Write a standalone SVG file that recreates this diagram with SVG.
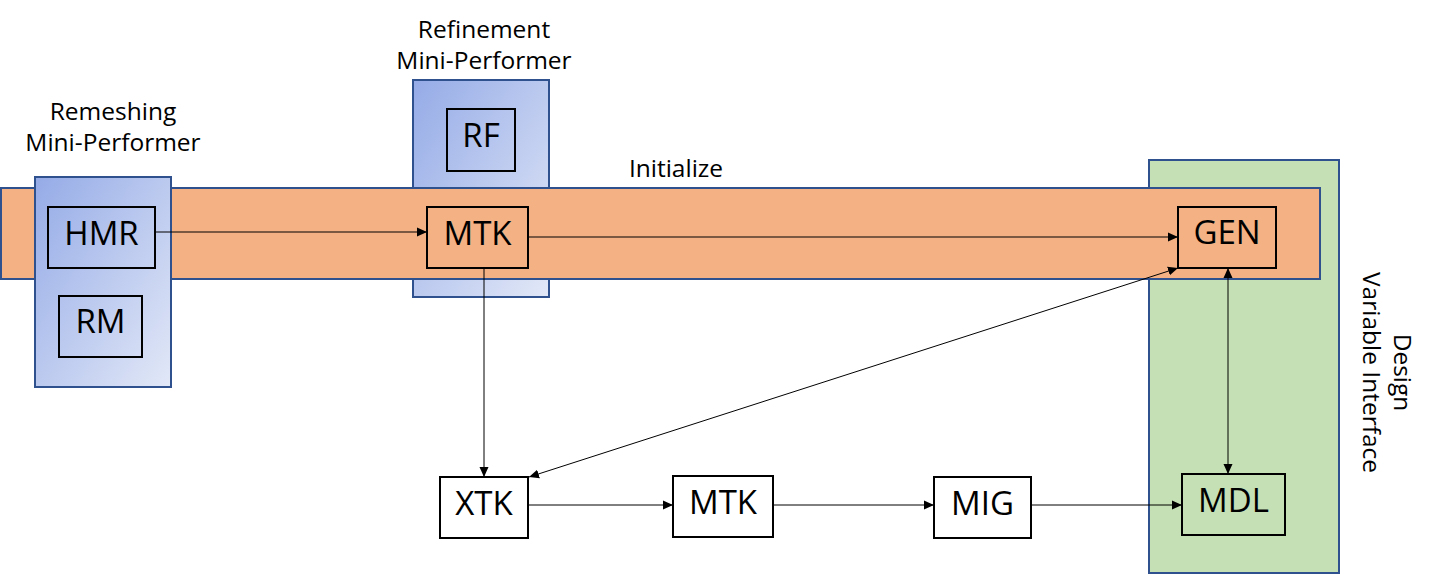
<svg xmlns="http://www.w3.org/2000/svg" width="1433" height="574" viewBox="0 0 1433 574">
<defs>
<linearGradient id="blue" x1="0" y1="0" x2="1" y2="1">
<stop offset="0" stop-color="#95abe7"/>
<stop offset="1" stop-color="#e2e8f7"/>
</linearGradient>
<marker id="arr" viewBox="0 0 10 10" refX="10" refY="5" markerWidth="10" markerHeight="10" markerUnits="userSpaceOnUse" orient="auto-start-reverse">
<path d="M0,0.5 L10,5 L0,9.5 Z" fill="#000"/>
</marker>
<style>
.grp{stroke:#2f528f;stroke-width:2}
.node{fill:none;stroke:#000;stroke-width:2}
.wnode{fill:#fff;stroke:#000;stroke-width:2}
.lbl{font-family:"Open Sans","Noto Sans",sans-serif;font-size:33px;fill:#000;text-anchor:middle}
.cap{font-family:"Open Sans","Noto Sans",sans-serif;font-size:24.5px;fill:#000;text-anchor:middle}
.conn{stroke:#000;stroke-width:1;fill:none}
</style>
</defs>
<g id="refinement-group">
<rect class="grp" x="413" y="80" width="136" height="217" fill="url(#blue)"/>
</g>
<g id="design-variable-interface">
<rect class="grp" x="1149" y="160" width="190" height="413" fill="#c5e0b4"/>
</g>
<g id="initialize-band">
<rect class="grp" x="1" y="188" width="1319" height="91" fill="#f4b183"/>
</g>
<g id="remeshing-group">
<rect class="grp" x="35" y="177" width="136" height="210" fill="url(#blue)"/>
</g>
<g id="labels">
<text class="cap" x="113" y="120">Remeshing</text>
<text class="cap" x="113" y="151">Mini-Performer</text>
<text class="cap" x="484" y="38">Refinement</text>
<text class="cap" x="484" y="69">Mini-Performer</text>
<text class="cap" x="676" y="177">Initialize</text>
<text class="cap" transform="translate(1394,372.5) rotate(90)">Design</text>
<text class="cap" transform="translate(1363,372.5) rotate(90)">Variable Interface</text>
</g>
<g id="node-hmr"><rect class="node" x="48" y="207" width="107" height="61"/><text class="lbl" x="101.5" y="245">HMR</text></g>
<g id="node-rm"><rect class="node" x="59" y="296" width="83" height="61"/><text class="lbl" x="100.5" y="333">RM</text></g>
<g id="node-rf"><rect class="node" x="447" y="109" width="68" height="62"/><text class="lbl" x="481" y="147">RF</text></g>
<g id="node-mtk1"><rect class="node" x="427" y="207" width="101" height="61"/><text class="lbl" x="477.5" y="245">MTK</text></g>
<g id="node-gen"><rect class="node" x="1178" y="207" width="98" height="61"/><text class="lbl" x="1227" y="244">GEN</text></g>
<g id="node-xtk"><rect class="wnode" x="440" y="477" width="88" height="61"/><text class="lbl" x="484" y="515">XTK</text></g>
<g id="node-mtk2"><rect class="wnode" x="673" y="476" width="100" height="61"/><text class="lbl" x="723" y="514">MTK</text></g>
<g id="node-mig"><rect class="wnode" x="934" y="477" width="97" height="61"/><text class="lbl" x="982.5" y="515">MIG</text></g>
<g id="node-mdl"><rect class="node" x="1182" y="474" width="103" height="61"/><text class="lbl" x="1233.5" y="512">MDL</text></g>
<g id="connectors">
<line class="conn" x1="155" y1="232" x2="427" y2="232" marker-end="url(#arr)"/>
<line class="conn" x1="528" y1="237" x2="1178" y2="237" marker-end="url(#arr)"/>
<line class="conn" x1="484" y1="268" x2="484" y2="477" marker-end="url(#arr)"/>
<line class="conn" x1="1178" y1="268" x2="529" y2="477" marker-start="url(#arr)" marker-end="url(#arr)"/>
<line class="conn" x1="1228" y1="268" x2="1228" y2="474" marker-start="url(#arr)" marker-end="url(#arr)"/>
<line class="conn" x1="528" y1="505" x2="673" y2="505" marker-end="url(#arr)"/>
<line class="conn" x1="773" y1="505" x2="934" y2="505" marker-end="url(#arr)"/>
<line class="conn" x1="1031" y1="505" x2="1182" y2="505" marker-end="url(#arr)"/>
</g>
</svg>
